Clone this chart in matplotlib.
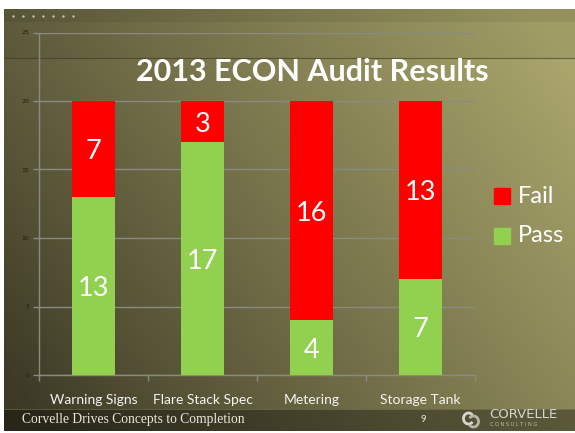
import numpy as np
import matplotlib
matplotlib.use("Agg")
import matplotlib.pyplot as plt
from matplotlib.patches import Rectangle, Arc

categories = ["Warning Signs", "Flare Stack Spec", "Metering", "Storage Tank"]
pass_vals = [13, 17, 4, 7]
fail_vals = [7, 3, 16, 13]
y_ticks = [0, 5, 10, 15, 20, 25]
title = "2013 ECON Audit Results"

W, H = 575, 433
fig = plt.figure(figsize=(W / 100, H / 100), dpi=100, facecolor="white")

def fx(px):
    return px / W

def fy(py):
    return 1 - py / H

# background slide
sl, st, sr, sb = 4, 9, 575, 431
bg = fig.add_axes([fx(sl), fy(sb), fx(sr - sl), (sb - st) / H])
bg.set_axis_off()
nx, ny = 200, 150
xx, yy = np.meshgrid(np.linspace(0, 1, nx), np.linspace(0, 1, ny))
t = np.clip(0.72 * xx + 0.38 * (1 - yy) - 0.05, 0, 1)
dark = np.array([60, 57, 38]) / 255
light = np.array([170, 166, 108]) / 255
img = dark[None, None, :] + (light - dark)[None, None, :] * (t[..., None] ** 0.9)
bg.imshow(img, extent=[0, 1, 0, 1], origin="upper", aspect="auto")
bg.set_xlim(0, 1)
bg.set_ylim(0, 1)
# header band
hb = (22 - st) / (sb - st)
bg.add_patch(Rectangle((0, 1 - hb), 1, hb, color="black", alpha=0.12, lw=0))
lb = (58 - st) / (sb - st)
bg.add_patch(Rectangle((0, 1 - lb), 1, lb - hb, color="black", alpha=0.05, lw=0))
bg.plot([0, 1], [1 - lb, 1 - lb], color="#3a3420", lw=0.8, alpha=0.6)
for i in range(7):
    bg.scatter((13 + i * 10 - sl) / (sr - sl), 1 - (16 - st) / (sb - st), s=3, color="#c8c6b0", lw=0)
# footer band
fb = (sb - 409) / (sb - st)
bg.add_patch(Rectangle((0, 0), 1, fb, color="black", alpha=0.33, lw=0))
bg.plot([0, 1], [fb, fb], color="#8a8660", lw=0.6, alpha=0.6)

# main chart axes
ax = fig.add_axes([fx(39), fy(375), fx(475 - 39), (375 - 32.5) / H])
ax.patch.set_alpha(0)
x = np.arange(len(categories))
ax.bar(x, pass_vals, width=0.4, color="#92d050", zorder=3)
ax.bar(x, fail_vals, width=0.4, bottom=pass_vals, color="#ff0000", zorder=3)
for i in range(len(categories)):
    ax.text(x[i], pass_vals[i] / 2, str(pass_vals[i]), ha="center", va="center_baseline",
            color="white", fontsize=19.5, family="Lato", zorder=4)
    ax.text(x[i], pass_vals[i] + fail_vals[i] / 2, str(fail_vals[i]), ha="center",
            va="center_baseline", color="white", fontsize=19.5, family="Lato", zorder=4)
ax.set_xlim(-0.5, len(categories) - 0.5)
ax.set_ylim(0, 25)
ax.set_yticks(y_ticks)
ax.set_yticklabels([str(v) for v in y_ticks], fontsize=4.5, color="#1e1e14", family="DejaVu Sans")
ax.yaxis.grid(True, color="#8a8a80", lw=1, zorder=1)
ax.tick_params(axis="y", length=4, color="#8a8a80", width=1, pad=3)
ax.set_xticks(np.arange(-0.5, len(categories) + 0.5, 1), minor=False)
ax.set_xticklabels([])
ax.tick_params(axis="x", length=4, color="#8a8a80", width=1, direction="out")
ax.set_xticks(x, minor=True)
ax.set_xticklabels(categories, minor=True, fontsize=10, color="#f4f4f0", family="Lato")
ax.tick_params(axis="x", which="minor", length=0, pad=14)
for s in ["top", "right"]:
    ax.spines[s].set_visible(False)
ax.spines["left"].set_color("#8a8a80")
ax.spines["bottom"].set_color("#8a8a80")
ax.spines["left"].set_linewidth(1)
ax.spines["bottom"].set_linewidth(1)

# title
fig.text(fx(312), fy(72), title, ha="center", va="center", color="white",
         fontsize=22, fontweight="bold", family="Lato")

# legend
for lbl, col, cy in [("Fail", "#ff0000", 196), ("Pass", "#92d050", 236)]:
    fig.patches.append(Rectangle((fx(494), fy(cy + 8)), fx(16), 16 / H, color=col,
                                 transform=fig.transFigure, figure=fig))
    fig.text(fx(518), fy(cy), lbl, ha="left", va="center", color="white",
             fontsize=17, family="Lato")

# footer
fig.text(fx(22), fy(419.5), "Corvelle Drives Concepts to Completion", ha="left", va="center",
         color="#ece8d8", fontsize=9.8, family="Liberation Serif")
fig.text(fx(423), fy(419), "9", ha="center", va="center", color="#ece8d8", fontsize=7, family="Lato")
lg = fig.add_axes([fx(462), fy(429), fx(18), 18 / H])
lg.set_axis_off()
lg.set_xlim(0, 18)
lg.set_ylim(0, 18)
lg.add_patch(Arc((6.5, 10.5), 10, 11, theta1=40, theta2=320, color="#d8d6cc", lw=2))
lg.add_patch(Arc((11.5, 7.5), 10, 11, theta1=220, theta2=500, color="#b8b6ac", lw=2))
fig.text(fx(489), fy(414), "CORVELLE", ha="left", va="center", color="#d8d6cc",
         fontsize=9.5, family="DejaVu Sans")
fig.text(fx(490), fy(424.5), "C O N S U L T I N G", ha="left", va="center", color="#c0beb2",
         fontsize=3.6, family="DejaVu Sans")

fig.savefig("out.png", dpi=100, facecolor=fig.get_facecolor())
